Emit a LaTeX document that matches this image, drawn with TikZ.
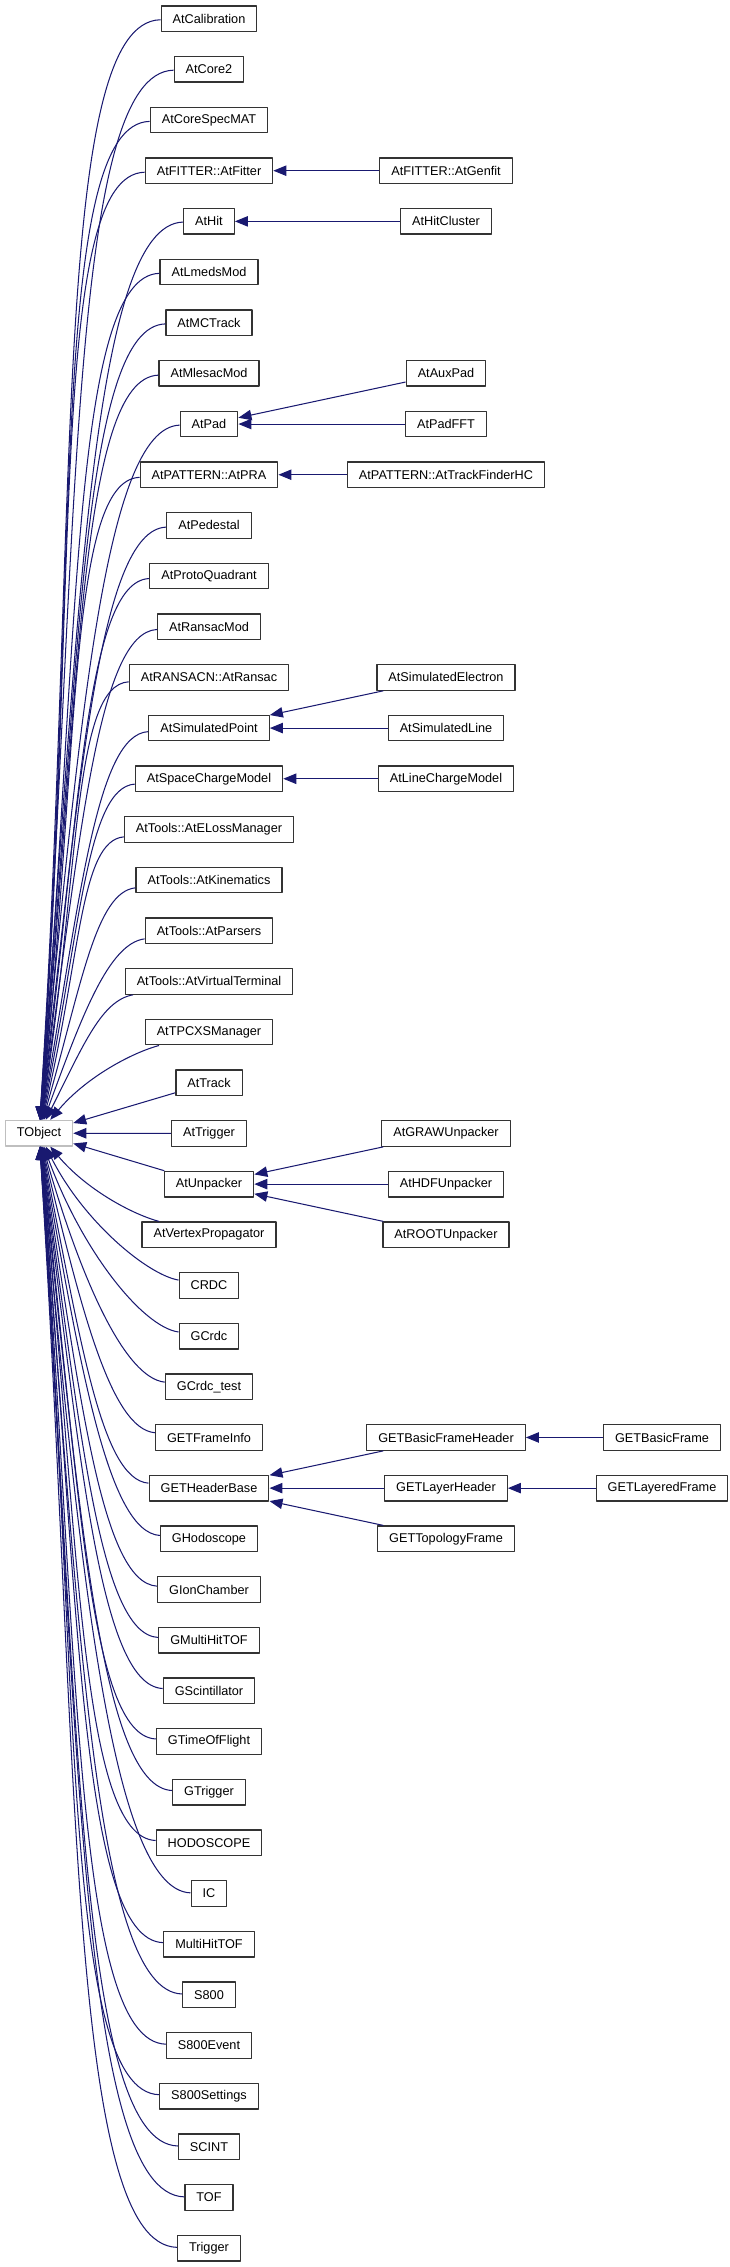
\documentclass[tikz,border=0pt]{standalone}
\usepackage{fontspec}
\setmainfont{Liberation Sans}
\usetikzlibrary{arrows.meta}
\definecolor{edgeblue}{RGB}{25,25,112}

\begin{document}
\begin{tikzpicture}[x=0.25pt, y=0.25pt, line join=round,
	cls/.style={draw=black!80, line width=0.32pt, fill=white, inner xsep=2.875pt, inner ysep=0pt,
		minimum height=6.375pt, font=\fontsize{3.175}{3.8}\selectfont},
	inh/.style={{Triangle[length=3.25pt,width=2.6pt]}-, draw=edgeblue, fill=none, line width=0.26pt}]
	% page frame
	\useasboundingbox (0,0) rectangle (729,-2267);
	% base class
	\node[cls, draw=black!25] (TObject) at (39,-1133.2) {TObject};
	% classes above TObject, bent edges
	\foreach \nm/\txt [count=\i from 0] in {calib/AtCalibration, core/AtCore2, coremat/AtCoreSpecMAT,
		fitter/AtFITTER::AtFitter, hit/AtHit, lmeds/AtLmedsMod, mctrack/AtMCTrack, mlesac/AtMlesacMod,
		pad/AtPad, pra/AtPATTERN::AtPRA, pedestal/AtPedestal, quadrant/AtProtoQuadrant,
		ransacmod/AtRansacMod, ransac/AtRANSACN::AtRansac, simpt/AtSimulatedPoint,
		scm/AtSpaceChargeModel, eloss/AtTools::AtELossManager, kin/AtTools::AtKinematics,
		parsers/AtTools::AtParsers, vterm/AtTools::AtVirtualTerminal, xsman/AtTPCXSManager}{
		\node[cls] (\nm) at (209,{-18.7-50.67*\i}) {\txt};
		\pgfmathsetmacro{\n}{22-\i}
		\pgfmathsetmacro{\ao}{90-80/\n}
		\pgfmathsetmacro{\ai}{180+30/\n}
		\pgfmathsetmacro{\od}{0.55*12.6675*\n}
		\pgfmathsetmacro{\id}{5+\n}
		\draw[inh] (TObject) to[out=\ao, in=\ai, out distance=\od pt, in distance=\id pt] (\nm);
	}
	% classes level with TObject, straight edges
	\foreach \nm/\txt [count=\i from 21] in {track/AtTrack, trig/AtTrigger, unp/AtUnpacker}{
		\node[cls] (\nm) at (209,{-18.7-50.67*\i}) {\txt};
		\draw[inh] (TObject) -- (\nm);
	}
	% classes below TObject, bent edges
	\foreach \nm/\txt [count=\i from 24] in {vertex/AtVertexPropagator, crdc/CRDC, gcrdc/GCrdc,
		gcrdctest/GCrdc\_test, frameinfo/GETFrameInfo, hbase/GETHeaderBase, ghodo/GHodoscope,
		gion/GIonChamber, gmulti/GMultiHitTOF, gscint/GScintillator, gtof/GTimeOfFlight,
		gtrig/GTrigger, hodo/HODOSCOPE, ic/IC, multi/MultiHitTOF, s800/S800, s800ev/S800Event,
		s800set/S800Settings, scint/SCINT, tof/TOF, trigger/Trigger}{
		\node[cls] (\nm) at (209,{-18.7-50.67*\i}) {\txt};
		\pgfmathsetmacro{\n}{\i-22}
		\pgfmathsetmacro{\ao}{-90+80/\n}
		\pgfmathsetmacro{\ai}{180-30/\n}
		\pgfmathsetmacro{\od}{0.55*12.6675*\n}
		\pgfmathsetmacro{\id}{5+\n}
		\draw[inh] (TObject) to[out=\ao, in=\ai, out distance=\od pt, in distance=\id pt] (\nm);
	}
	% derived classes, second and third column
	\foreach \nm/\txt/\r/\x in {genfit/AtFITTER::AtGenfit/3/446, hitcl/AtHitCluster/4/446,
		auxpad/AtAuxPad/7/446, padfft/AtPadFFT/8/446, trackhc/AtPATTERN::AtTrackFinderHC/9/446,
		simel/AtSimulatedElectron/13/446, simline/AtSimulatedLine/14/446,
		linecm/AtLineChargeModel/15/446, graw/AtGRAWUnpacker/22/446, hdf/AtHDFUnpacker/23/446,
		root/AtROOTUnpacker/24/446, bfh/GETBasicFrameHeader/28/446, layh/GETLayerHeader/29/446,
		topo/GETTopologyFrame/30/446, bframe/GETBasicFrame/28/662, lframe/GETLayeredFrame/29/662}
		\node[cls] (\nm) at (\x,{-18.7-50.67*\r}) {\txt};
	% inheritance arrows between columns
	\foreach \a/\b in {fitter/genfit, hit/hitcl, pad/auxpad, pad/padfft, pra/trackhc,
		simpt/simel, simpt/simline, scm/linecm, unp/graw, unp/hdf, unp/root,
		hbase/bfh, hbase/layh, hbase/topo, bfh/bframe, layh/lframe}
		\draw[inh] (\a) -- (\b);
\end{tikzpicture}
\end{document}
